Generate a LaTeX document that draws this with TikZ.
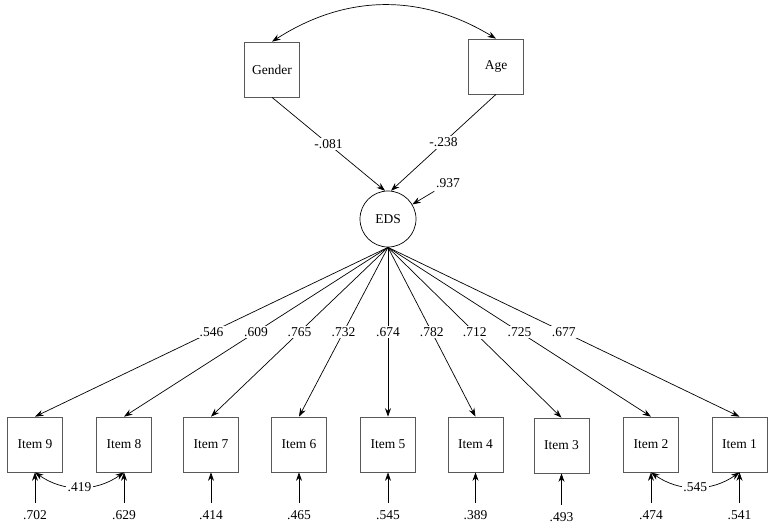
\documentclass[tikz,border=0pt]{standalone}
\usepackage{fontspec}
\setmainfont{Liberation Serif}
\usetikzlibrary{arrows.meta}

\begin{document}
\begin{tikzpicture}[x=1pt, y=-1pt, >={Stealth[length=8.5pt, width=6pt]}, line width=0.7pt,
    every node/.style={font=\fontsize{13.5pt}{16pt}\selectfont},
    box/.style={draw=black!65, minimum width=55pt, minimum height=55pt, inner sep=0pt},
    coef/.style={fill=white, inner sep=1.5pt},
    err/.style={inner xsep=2pt, inner ysep=7.5pt}]
    \useasboundingbox (0,0) rectangle (775,528);
    % exogenous variables and latent factor
    \node[box] (gender) at (272,69.5) {Gender};
    \node[box] (age) at (496,66.5) {Age};
    \node[draw, circle, minimum size=56pt, inner sep=0pt] (eds) at (388,219) {EDS};
    \draw[<->] (gender.north) to[bend left=32] (age.north);
    \draw[->] (gender.south) -- (eds.96) node[midway, coef] {-.081};
    \draw[->] (age.south) -- (eds.84) node[midway, coef] {-.238};
    \node (e937) at (448,183) {.937};
    \draw[->] (e937) -- (eds);
    % observed items
    \node[box] (item9) at (35,444.5) {Item 9};
    \node[box] (item8) at (124,444.5) {Item 8};
    \node[box] (item7) at (211,444.5) {Item 7};
    \node[box] (item6) at (299,444.5) {Item 6};
    \node[box] (item5) at (388,444.5) {Item 5};
    \node[box] (item4) at (475.5,444.5) {Item 4};
    \node[box] (item3) at (561.5,445.5) {Item 3};
    \node[box] (item2) at (651,444.5) {Item 2};
    \node[box] (item1) at (739.5,444.5) {Item 1};
    % loadings
    \draw[->] (eds.south) -- (item9.north) node[midway, coef] {.546};
    \draw[->] (eds.south) -- (item8.north) node[midway, coef] {.609};
    \draw[->] (eds.south) -- (item7.north) node[midway, coef] {.765};
    \draw[->] (eds.south) -- (item6.north) node[midway, coef] {.732};
    \draw[->] (eds.south) -- (item5.north) node[midway, coef] {.674};
    \draw[->] (eds.south) -- (item4.north) node[midway, coef] {.782};
    \draw[->] (eds.south) -- (item3.north) node[midway, coef] {.712};
    \draw[->] (eds.south) -- (item2.north) node[midway, coef] {.725};
    \draw[->] (eds.south) -- (item1.north) node[midway, coef] {.677};
    % residuals
    \node[err] (e9) at (35,515) {.702};
    \node[err] (e8) at (124,515) {.629};
    \node[err] (e7) at (211,515) {.414};
    \node[err] (e6) at (299,515) {.465};
    \node[err] (e5) at (388,515) {.545};
    \node[err] (e4) at (475.5,515) {.389};
    \node[err] (e3) at (561.5,517) {.493};
    \node[err] (e2) at (651,515) {.474};
    \node[err] (e1) at (739.5,515) {.541};
    \draw[->] (e9) -- (item9);
    \draw[->] (e8) -- (item8);
    \draw[->] (e7) -- (item7);
    \draw[->] (e6) -- (item6);
    \draw[->] (e5) -- (item5);
    \draw[->] (e4) -- (item4);
    \draw[->] (e3) -- (item3);
    \draw[->] (e2) -- (item2);
    \draw[->] (e1) -- (item1);
    % residual covariances
    \draw[<->] (item9.south) to[bend right=35] node[midway, coef] {.419} (item8.south);
    \draw[<->] (item2.south) to[bend right=35] node[midway, coef] {.545} (item1.south);
\end{tikzpicture}
\end{document}
